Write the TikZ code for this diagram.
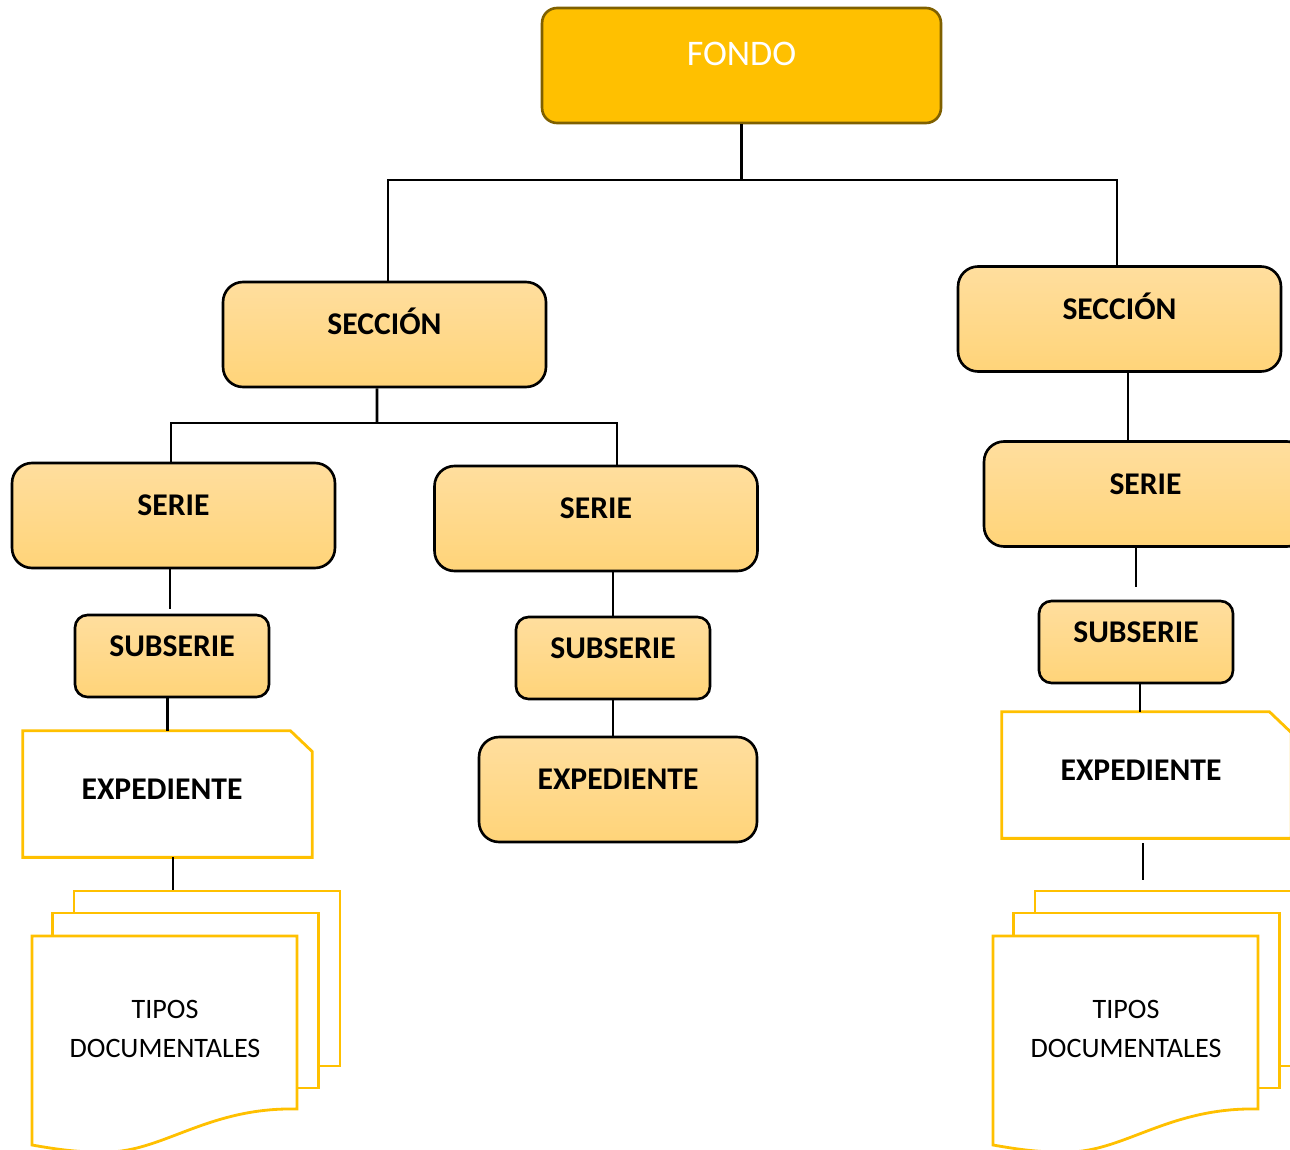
\documentclass[tikz,border=0pt]{standalone}
\usepackage{fontspec}
\setmainfont{Carlito}
\usepackage{tikz}
\usetikzlibrary{positioning, calc}

\definecolor{fondofill}{HTML}{FFC000}
\definecolor{fondoline}{HTML}{7F6000}
\definecolor{cajaarriba}{HTML}{FFDE9E}
\definecolor{cajaabajo}{HTML}{FFD479}
\definecolor{hojaline}{HTML}{FFC000}

\tikzset{
  fondo/.style={rectangle, rounded corners=0.3cm, draw=fondoline, fill=fondofill, line width=1.5pt,
    minimum width=7.98cm, minimum height=2.30cm, text=white, font=\fontsize{20.5}{24}\selectfont,
    text height=0pt, text depth=0pt},
  caja/.style={rectangle, rounded corners=0.4cm, draw=black, line width=1.5pt,
    top color=cajaarriba, bottom color=cajaabajo, minimum width=6.46cm, minimum height=2.10cm,
    font=\bfseries\fontsize{18}{21}\selectfont, text height=0pt, text depth=0pt},
  subcaja/.style={caja, rounded corners=0.25cm, minimum width=3.88cm, minimum height=1.64cm},
  expcaja/.style={caja, minimum width=5.56cm},
  docu/.style={rectangle, minimum width=5.78cm, minimum height=2.52cm,
    font=\bfseries\fontsize{18}{21}\selectfont, text height=0.2cm, text depth=0pt},
  hoja/.style={rectangle, draw=hojaline, fill=white, line width=1.6pt, minimum width=5.32cm, minimum height=3.5cm},
  linea/.style={line width=1.6pt, black},
}

\begin{document}
\begin{tikzpicture}[x=0.02cm, y=-0.02cm]
\useasboundingbox (0,0) rectangle (1290,1149);
\clip (0,0) rectangle (1290,1149);

% niveles
\node[fondo] (fondo) at (741.5,65.5) {FONDO};
\node[caja] (sec1) at (384.5,334.5) {SECCIÓN};
\node[caja] (sec2) at (1119.5,319) {SECCIÓN};
\node[caja] (ser1) at (173.5,515.5) {SERIE};
\node[caja] (ser2) at (596,518.5) {SERIE};
\node[caja] (ser3) at (1145.5,494) {SERIE};
\node[subcaja] (sub1) at (172,656) {SUBSERIE};
\node[subcaja] (sub2) at (613,658) {SUBSERIE};
\node[subcaja] (sub3) at (1136,642) {SUBSERIE};
\node[expcaja] (exp2) at (618,789.5) {EXPEDIENTE};
\node[docu] (exp1) at (167.5,794) {\kern-0.22cm EXPEDIENTE};
\node[docu] (exp3) at (1146.5,775) {\kern-0.22cm EXPEDIENTE};
\foreach \n in {exp1, exp3}
  \draw[hojaline, line width=1.6pt] (\n.north west) -- ([xshift=-0.44cm]\n.north east)
    -- ([yshift=-0.42cm]\n.north east) -- (\n.south east) -- (\n.south west) -- cycle;

% tipos documentales
\foreach \dx/\n in {0/1, 961/2} {
  \node[hoja] (atras\n) at (207+\dx,978.5) {};
  \node[hoja] (medio\n) at (185.5+\dx,1000.5) {};
  \draw[hojaline, fill=white, line width=1.6pt] (32+\dx,936) -- (297+\dx,936) -- (297+\dx,1109)
    .. controls (210+\dx,1107) and (165+\dx,1150) .. (110+\dx,1152)
    .. controls (80+\dx,1153) and (55+\dx,1149) .. (32+\dx,1145) -- cycle;
  \node[align=center, font=\fontsize{16}{22}\selectfont] (tipos\n) at (165+\dx,1029) {TIPOS\\DOCUMENTALES};
}

% conectores
\coordinate (bus1) at (740,180);
\coordinate (bus2) at (377,423);
\draw[linea] (fondo.south) -- (fondo.south |- bus1);
\draw[linea] ($(sec1.north)+(0.07cm,0)$) |- (bus1) -| ($(sec2.north)+(-0.05cm,0)$);
\draw[linea] ($(sec1.south)+(-0.15cm,0)$) -- (bus2);
\draw[linea] ($(ser1.north)+(-0.05cm,0)$) |- (bus2) -| ($(ser2.north)+(0.42cm,0)$);
\draw[linea] ($(sec2.south)+(0.17cm,0)$) -- ($(sec2.south |- ser3.north)+(0.17cm,0)$);

\draw[linea, shorten >=0.1cm] ($(ser1.south)+(-0.07cm,0)$) -- ($(ser1.south |- sub1.north)+(-0.07cm,0)$);
\draw[linea] (sub2.north |- ser2.south) -- (sub2.north);
\draw[linea, shorten >=0.26cm] (sub3.north |- ser3.south) -- (sub3.north);

\draw[linea] (exp1.north |- sub1.south) -- (exp1.north);
\draw[linea] (sub2.south) -- (sub2.south |- exp2.north);
\draw[linea] ($(sub3.south)+(0.08cm,0)$) -- ($(sub3.south |- exp3.north)+(0.08cm,0)$);

\draw[linea] ($(exp1.south)+(0.11cm,0)$) -- ($(exp1.south |- atras1.north)+(0.11cm,0)$);
\draw[linea, shorten <=0.1cm, shorten >=0.2cm] ($(exp3.south)+(-0.07cm,0)$) -- ($(exp3.south |- atras2.north)+(-0.07cm,0)$);
\end{tikzpicture}
\end{document}
